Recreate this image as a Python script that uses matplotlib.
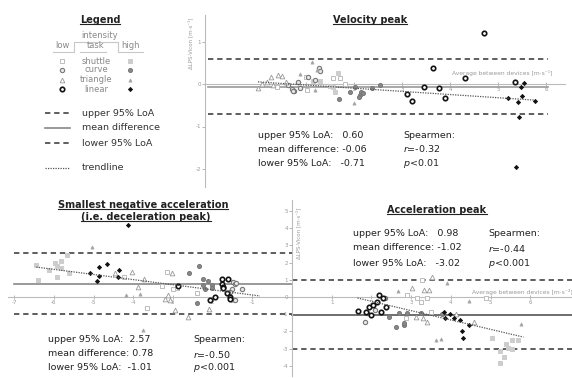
import matplotlib
matplotlib.use("Agg")
import matplotlib.pyplot as plt

plt.rcParams["font.family"] = ["DejaVu Sans"]
plt.rcParams["axes.unicode_minus"] = False

# ---------------- DATA ----------------
tasks = ["shuttle", "curve", "triangle", "linear"]
intensities = ["low", "high"]

# Velocity peak (x: average between devices [m/s], y: LPS - Vicon [m/s])
vel_shuttle_low_x = [0.40, 1.00, 1.02, 1.56, 1.71, 1.81]
vel_shuttle_low_y = [-0.07, 0.16, -0.14, 0.14, 0.14, 0.00]
vel_shuttle_high_x = [1.15, 1.29, 1.50, 1.60, 1.67, 1.56]
vel_shuttle_high_y = [0.07, 0.07, -0.05, -0.19, 0.26, -0.07]
vel_curve_low_x = [0.63, 0.71, 0.75, 0.83, 0.88, 1.04, 1.19, 1.27, 1.29, 0.73]
vel_curve_low_y = [-0.02, -0.12, -0.16, 0.05, -0.09, 0.16, 0.09, 0.38, 0.31, -0.16]
vel_curve_high_x = [1.69, 1.92, 2.02, 2.13, 2.15, 2.19, 2.38, 2.54, 2.10]
vel_curve_high_y = [-0.35, -0.19, -0.07, -0.26, -0.19, -0.21, -0.09, -0.02, -0.31]
vel_triangle_low_x = [0.00, 0.08, 0.19, 0.27, 0.42, 0.50, 0.58, 0.31]
vel_triangle_low_y = [-0.09, 0.00, 0.05, 0.16, 0.21, 0.19, 0.05, -0.02]
vel_triangle_high_x = [1.12, 0.88, 1.19, 2.00, 1.23]
vel_triangle_high_y = [0.52, 0.24, -0.14, -0.45, 0.33]
vel_linear_low_x = [3.10, 3.21, 3.46, 3.65, 3.77, 3.90, 4.31, 4.71, 5.35]
vel_linear_low_y = [-0.24, -0.40, -0.07, 0.38, -0.09, -0.33, 0.14, 1.20, 0.05]
vel_linear_high_x = [5.21, 5.42, 5.44, 5.48, 5.50, 5.54, 5.77, 5.38]
vel_linear_high_y = [-0.33, -0.42, -0.78, -0.07, -0.28, 0.02, -0.40, -1.95]
vel_loa = [0.60, -0.06, -0.71]          # upper, mean, lower
vel_trend = [-0.0745, 0.05]             # slope, intercept
vel_trend_x = [0.0, 5.77]
vel_stats = ["upper 95% LoA:   0.60", "mean difference: -0.06", "lower 95% LoA:   -0.71"]
vel_spear = ["Spearmen:", "$r$=-0.32", "$p$<0.01"]

# Smallest negative acceleration (deceleration peak) [m/s^2]
dec_shuttle_low_x = [-4.24, -3.16, -3.28, -3.66, -2.90, -2.40, -1.74, -1.49, -3.00]
dec_shuttle_low_y = [1.16, 1.45, 0.64, -0.64, 0.52, 0.23, 0.70, -0.17, 0.47]
dec_shuttle_high_x = [-6.44, -6.41, -5.98, -5.81, -5.91, -5.93, -5.68, -5.61, -6.11, -5.81]
dec_shuttle_high_y = [1.86, 0.99, 1.98, 2.09, 1.80, 1.16, 2.44, 1.40, 1.57, 1.69]
dec_curve_low_x = [-1.49, -1.44, -1.41, -1.26, -1.52, -1.57, -1.44]
dec_curve_low_y = [0.87, 0.76, 0.81, 0.47, 0.47, 0.29, -0.17]
dec_curve_high_x = [-2.60, -2.35, -2.25, -2.25, -2.12, -2.02, -2.40, -2.20, -2.02]
dec_curve_high_y = [1.40, 1.80, 1.05, 0.70, 0.93, 0.70, -0.35, 0.47, 0.52]
dec_triangle_low_x = [-4.47, -4.02, -3.89, -3.74, -3.03, -3.13, -3.21, -3.08, -2.95, -2.10, -2.63]
dec_triangle_low_y = [1.40, 1.45, 0.58, 1.05, 1.40, 0.12, -0.12, -0.17, -0.76, -0.70, -1.16]
dec_triangle_high_x = [-5.03, -4.19, -3.84, -3.76]
dec_triangle_high_y = [2.91, 0.12, 0.17, -1.92]
dec_linear_low_x = [-2.88, -2.07, -1.94, -1.77, -1.62, -1.77, -1.74, -1.64, -1.57, -1.57, -1.74]
dec_linear_low_y = [0.64, -0.17, 0.00, 1.05, 1.05, 0.76, 0.58, 0.23, 0.00, -0.12, 0.52]
dec_linear_high_x = [-4.14, -4.65, -4.87, -5.08, -4.87, -4.90, -4.37, -4.39]
dec_linear_high_y = [4.19, 1.92, 1.74, 1.40, 1.22, 0.93, 1.57, 1.16]
dec_loa = [2.57, 0.78, -1.01]
dec_trend = [-0.298, -0.18]
dec_trend_x = [-6.44, -0.81]
dec_stats = ["upper 95% LoA:  2.57", "mean difference: 0.78", "lower 95% LoA:  -1.01"]
dec_spear = ["Spearmen:", "$r$=-0.50", "$p$<0.001"]

# Acceleration peak [m/s^2]
acc_shuttle_low_x = [2.90, 3.15, 3.25, 3.28, 4.88, 2.88, 3.40, 3.50]
acc_shuttle_low_y = [0.12, -0.06, -0.29, 0.99, -0.06, -1.22, -0.06, -0.87]
acc_shuttle_high_x = [5.03, 5.25, 5.33, 5.23, 5.40, 5.53, 5.55, 5.70, 5.43]
acc_shuttle_high_y = [-2.38, -3.14, -3.49, -3.84, -2.73, -3.02, -2.50, -2.50, -2.96]
acc_curve_low_x = [1.83, 2.33, 1.90, 2.08]
acc_curve_low_y = [-1.45, -0.06, -0.93, -0.76]
acc_curve_high_x = [2.45, 2.63, 2.83, 2.70, 2.90, 2.83, 3.25, 3.78]
acc_curve_high_y = [-1.16, -1.74, -1.63, -0.93, -0.93, -1.51, -0.93, -0.99]
acc_triangle_low_x = [3.03, 3.33, 3.45, 3.53, 4.58, 3.13, 3.40, 3.30, 4.13]
acc_triangle_low_y = [0.52, 0.41, 0.41, 1.16, -1.45, -1.16, -1.45, -1.22, -0.99]
acc_triangle_high_x = [2.68, 3.90, 4.45, 3.63, 3.75, 5.78]
acc_triangle_high_y = [0.35, 0.81, -0.23, -2.50, -2.44, -1.57]
acc_linear_low_x = [1.65, 1.95, 2.00, 2.20, 2.25, 2.15, 2.38, 2.30, 2.03, 1.87]
acc_linear_low_y = [-0.81, -0.58, -1.05, 0.12, -0.87, -0.29, -0.58, -0.06, -0.47, -0.87]
acc_linear_high_x = [3.83, 3.85, 3.98, 4.08, 4.23, 4.45, 4.28, 4.30]
acc_linear_high_y = [-0.87, -1.22, -0.99, -1.22, -1.34, -1.63, -1.98, -2.38]
acc_loa = [0.98, -1.02, -3.02]
acc_trend = [-0.543, 0.836]
acc_trend_x = [1.65, 5.83]
acc_stats = ["upper 95% LoA:   0.98", "mean difference: -1.02", "lower 95% LoA:   -3.02"]
acc_spear = ["Spearmen:", "$r$=-0.44", "$p$<0.001"]

vel_ticks_x = [1, 2, 3, 4, 5, 6]
vel_ticks_y = [-2, -1, 0, 1]
bot_ticks_x = [-7, -6, -5, -4, -3, -2, -1, 1, 2, 3, 4, 5, 6]
bot_ticks_y = [-4, -3, -2, -1, 0, 1, 2, 3, 4, 5]

# ---------------- STYLE ----------------
styles = {
    "shuttle_low": dict(marker="s", mfc="white", mec="#bcbcbc", ms=2.9, mew=0.7),
    "shuttle_high": dict(marker="s", mfc="#cdcdcd", mec="#cdcdcd", ms=2.9, mew=0.7),
    "curve_low": dict(marker="o", mfc="#e6e6e6", mec="#777777", ms=3.1, mew=0.8),
    "curve_high": dict(marker="o", mfc="#888888", mec="#777777", ms=2.9, mew=0.7),
    "triangle_low": dict(marker="^", mfc="white", mec="#999999", ms=3.4, mew=0.6),
    "triangle_high": dict(marker="^", mfc="#a5a5a5", mec="#a5a5a5", ms=2.3, mew=0.5),
    "linear_low": dict(marker="o", mfc="white", mec="#111111", ms=3.2, mew=1.2),
    "linear_high": dict(marker="D", mfc="#111111", mec="#111111", ms=2.1, mew=0.6),
}
DASH = dict(color="#333333", lw=1.1, dashes=(3.5, 2.5))
TREND = dict(color="#555555", lw=0.9, linestyle=(0, (1, 1)))

W, H = 572, 378
fig = plt.figure(figsize=(W / 100, H / 100), dpi=100)


def axes_px(left, top, right, bottom):
    return fig.add_axes([left / W, 1 - bottom / H, (right - left) / W, (bottom - top) / H])


# Velocity axes: x 0 at px 258, 48 px/unit ; y 0 at px 84, 42.5 px/unit
ax_v = axes_px(205, 15, 565, 187)
ax_v.set_xlim((205 - 258) / 48, (565 - 258) / 48)
ax_v.set_ylim((84 - 187) / 42.5, (84 - 15) / 42.5)

# Bottom shared axes: x 0 at px 292, 39.7 px/unit ; y 0 at px 297, 17.2 px/unit
ax_b = axes_px(8, 200, 572, 376)
ax_b.set_xlim((8 - 292) / 39.7, (572 - 292) / 39.7)
ax_b.set_ylim((297 - 376) / 17.2, (297 - 200) / 17.2)

for ax in (ax_v, ax_b):
    ax.patch.set_visible(False)
    for s in ("top", "right"):
        ax.spines[s].set_visible(False)
    for s in ("left", "bottom"):
        ax.spines[s].set_color("#bbbbbb")
        ax.spines[s].set_linewidth(0.8)
    ax.spines["bottom"].set_position(("data", 0))
    ax.tick_params(labelsize=4, colors="#999999", length=2, width=0.5, pad=1)
    ax.tick_params(axis="x", direction="inout", length=3)
ax_b.spines["left"].set_position(("data", 0))

ax_v.set_xticks(vel_ticks_x)
ax_v.set_yticks(vel_ticks_y)
ax_b.set_xticks(bot_ticks_x)
ax_b.set_yticks(bot_ticks_y)
for ax in (ax_v, ax_b):
    ax.tick_params(labelcolor="#999999")

panels = {
    "vel": (ax_v, vel_loa, vel_trend, vel_trend_x, (-1.04, 6.04), "#9a9a9a"),
    "dec": (ax_b, dec_loa, dec_trend, dec_trend_x, (-7.0, 0.0), "#888888"),
    "acc": (ax_b, acc_loa, acc_trend, acc_trend_x, (0.0, 7.1), "#555555"),
}
g = globals()
for pre, (ax, loa, trend, tx, xr, mcol) in panels.items():
    ax.plot(list(xr), [loa[0]] * 2, zorder=2, **DASH)
    ax.plot(list(xr), [loa[2]] * 2, zorder=2, **DASH)
    ax.plot(list(xr), [loa[1]] * 2, color=mcol, lw=1.2, zorder=2)
    for t in tasks:
        for i in intensities:
            key = f"{t}_{i}"
            ax.plot(g[f"{pre}_{key}_x"], g[f"{pre}_{key}_y"], linestyle="none",
                    zorder=4, **styles[key])
    ty = [trend[0] * v + trend[1] for v in tx]
    ax.plot(tx, ty, zorder=5, **TREND)

# ---------------- overlay for text and legend (pixel coordinates) ----------------
ax_o = fig.add_axes([0, 0, 1, 1])
ax_o.set_xlim(0, W)
ax_o.set_ylim(H, 0)
ax_o.axis("off")
ax_o.patch.set_visible(False)

titles = []
tkw = dict(ha="center", va="center", fontsize=7, fontweight="bold", color="#222")
titles.append(ax_o.text(100, 20, "Legend", **tkw))
titles.append(ax_o.text(370, 20, "Velocity peak", **tkw))
titles.append(ax_o.text(143, 205, "Smallest negative acceleration", **tkw))
titles.append(ax_o.text(146, 217, "(i.e. deceleration peak)", **tkw))
titles.append(ax_o.text(437, 210, "Acceleration peak", **tkw))


def stats_block(x0, x1, ys, lines, spear):
    for y, s, p in zip(ys, lines, spear):
        ax_o.text(x0, y, s, ha="left", va="center", fontsize=6.8, color="#222")
        ax_o.text(x1, y, p, ha="left", va="center", fontsize=6.8, color="#222")


stats_block(258, 403, [136, 149, 163], vel_stats, vel_spear)
stats_block(48, 193, [340, 354, 368], dec_stats, dec_spear)
stats_block(353, 488, [234, 248, 263], acc_stats, acc_spear)

# axis titles
ax_o.text(190, 18, "ΔLPS-Vicon [m·s⁻¹]", rotation=90, ha="center", va="top", fontsize=4, color="#999")
ax_o.text(298, 208, "ΔLPS-Vicon [m·s⁻²]", rotation=90, ha="center", va="top", fontsize=4, color="#999")
ax_o.text(452, 73, "Average between devices [m·s⁻¹]", ha="left", va="center", fontsize=4.3, color="#999")
ax_o.text(472, 292, "Average between devices [m·s⁻²]", ha="left", va="center", fontsize=4.3, color="#999")

# legend panel
ax_o.text(100, 36, "intensity", ha="center", va="center", fontsize=6, color="#888")
ax_o.text(62, 46, "low", ha="center", va="center", fontsize=6, color="#888")
ax_o.text(96, 46, "task", ha="center", va="center", fontsize=6, color="#888")
ax_o.text(131, 46, "high", ha="center", va="center", fontsize=6, color="#888")
gl = dict(color="#c8c8c8", lw=0.8)
ax_o.plot([53, 74, 74, 118, 118, 143], [52, 52, 42, 42, 52, 52], **gl)
ax_o.plot([80, 106], [52, 52], **gl)
for row, t in zip([61, 70, 80, 89], tasks):
    ax_o.text(96, row, t, ha="center", va="center", fontsize=6, color="#888")
    ax_o.plot(62, row, linestyle="none", **styles[f"{t}_low"])
    ax_o.plot(130, row, linestyle="none", **styles[f"{t}_high"])

leg_lines = [("upper 95% LoA", 113, DASH), ("mean difference", 128, dict(color="#888888", lw=1.2)),
             ("lower 95% LoA", 143, DASH), ("trendline", 168, TREND)]
for lab, yy, st in leg_lines:
    ax_o.plot([45, 70], [yy, yy], **st)
    ax_o.text(82, yy, lab, ha="left", va="center", fontsize=6.8, color="#333")

# underline titles
fig.canvas.draw()
r = fig.canvas.get_renderer()
inv = ax_o.transData.inverted()
for t in titles:
    bb = t.get_window_extent(r)
    (x0, y0), (x1, _) = inv.transform([(bb.x0, bb.y0 + 1.2), (bb.x1, bb.y0)])
    ax_o.plot([x0, x1], [y0, y0], color="#222", lw=0.8)

fig.savefig("out.png", dpi=100)
